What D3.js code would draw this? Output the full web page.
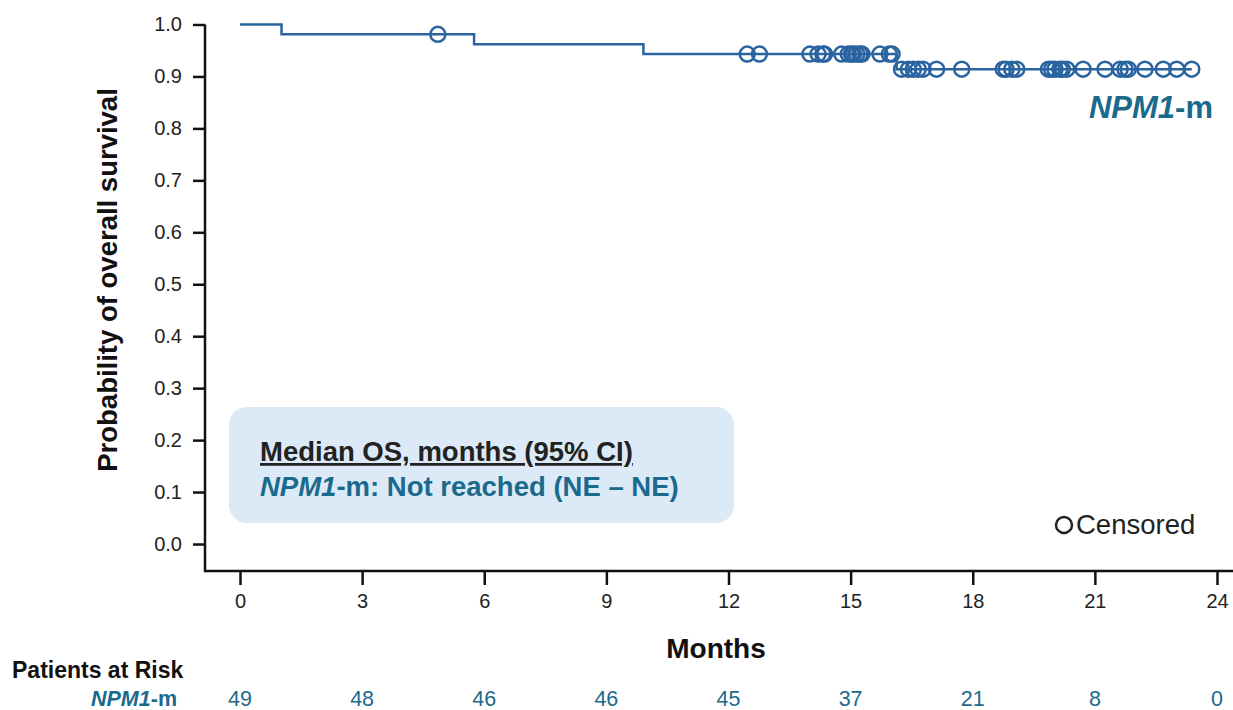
<!DOCTYPE html>
<html>
<head>
<meta charset="utf-8">
<script src="https://cdn.jsdelivr.net/npm/d3@7"></script>
<style>
  body { margin: 0; background: #fff; }
  text { font-family: "Liberation Sans", Arial, sans-serif; }
</style>
</head>
<body>
<svg width="1233" height="710"></svg>
<script>
const svg = d3.select("svg");

// step curve: event times and survival after each step
const stepTimes = [0, 1.02, 5.75, 9.91, 16.13];
const stepSurv = [1.0, 0.981, 0.962, 0.943, 0.914];
const lastTime = 23.38;

// censored patients (months)
const censorTimes = [4.86, 12.46, 12.76, 14.0, 14.2, 14.32, 14.36, 14.78, 14.94, 15.02, 15.07, 15.15, 15.23, 15.28, 15.72, 15.95, 16.02,
  16.25, 16.42, 16.54, 16.66, 16.78, 17.11, 17.73,
  18.75, 18.82, 18.96, 19.08, 19.86, 19.94, 20.02, 20.14, 20.2, 20.31, 20.71,
  21.25, 21.62, 21.74, 21.82, 22.23, 22.68, 23.01, 23.38];

const monthTicks = [0, 3, 6, 9, 12, 15, 18, 21, 24];
const atRisk = [49, 48, 46, 46, 45, 37, 21, 8, 0];
const survTicks = [0, 0.1, 0.2, 0.3, 0.4, 0.5, 0.6, 0.7, 0.8, 0.9, 1.0];

const lineColor = "#2a64a0";
const teal = "#1b6a8c";
const dark = "#222";

const x = d3.scaleLinear().domain([0, 24]).range([240, 1217]);
const y = d3.scaleLinear().domain([0, 1]).range([544, 24.5]);
const axisX = 205, axisY = 571;

function survAt(t) {
  let s = stepSurv[0];
  stepTimes.forEach((st, i) => { if (t >= st) s = stepSurv[i]; });
  return s;
}

// axes
const xAxis = svg.append("g")
    .attr("transform", `translate(0,${axisY})`)
    .call(d3.axisBottom(x).tickValues(monthTicks).tickSize(14).tickPadding(9).tickSizeOuter(0));
xAxis.select(".domain").remove();

const yAxis = svg.append("g")
    .attr("transform", `translate(${axisX},0)`)
    .call(d3.axisLeft(y).tickValues(survTicks).tickFormat(d3.format(".1f")).tickSize(12).tickPadding(11).tickSizeOuter(0));
yAxis.select(".domain").remove();

svg.selectAll(".tick line").attr("stroke", "#111").attr("stroke-width", 2.5);
svg.selectAll(".tick text").attr("font-size", 20).attr("fill", dark)
    .attr("font-family", "'Liberation Sans', Arial, sans-serif");

svg.append("line").attr("x1", axisX).attr("x2", 1233).attr("y1", axisY).attr("y2", axisY)
    .attr("stroke", "#111").attr("stroke-width", 2.5);
svg.append("line").attr("x1", axisX).attr("x2", axisX).attr("y1", y(1)).attr("y2", axisY + 1.25)
    .attr("stroke", "#111").attr("stroke-width", 2.5);

// median box
svg.append("rect").attr("x", 229).attr("y", 407).attr("width", 505).attr("height", 116)
    .attr("rx", 18).attr("fill", "#dce9f6");
svg.append("text").attr("x", 260).attr("y", 461)
    .attr("font-size", 27.5).attr("font-weight", "bold").attr("fill", dark)
    .attr("text-decoration", "underline")
    .text("Median OS, months (95% CI)");
const t2 = svg.append("text").attr("x", 260).attr("y", 496)
    .attr("font-size", 27.5).attr("font-weight", "bold").attr("fill", teal);
t2.append("tspan").attr("font-style", "italic").text("NPM1");
t2.append("tspan").text("-m: Not reached (NE \u2013 NE)");

// KM curve
const pts = [];
stepTimes.forEach((t, i) => {
  if (i > 0) pts.push([t, stepSurv[i - 1]]);
  pts.push([t, stepSurv[i]]);
});
pts.push([lastTime, stepSurv[stepSurv.length - 1]]);

svg.append("path")
    .datum(pts)
    .attr("fill", "none")
    .attr("stroke", lineColor)
    .attr("stroke-width", 2.5)
    .attr("d", d3.line().x(d => x(d[0])).y(d => y(d[1])));

svg.selectAll("circle.cens")
    .data(censorTimes)
    .enter().append("circle")
    .attr("class", "cens")
    .attr("cx", d => x(d))
    .attr("cy", d => y(survAt(d)))
    .attr("r", 7.5)
    .attr("fill", "none")
    .attr("stroke", lineColor)
    .attr("stroke-width", 2.5);

// series label
const lab = svg.append("text").attr("x", 1213).attr("y", 118).attr("text-anchor", "end")
    .attr("font-size", 31).attr("font-weight", "bold").attr("fill", teal);
lab.append("tspan").attr("font-style", "italic").text("NPM1");
lab.append("tspan").text("-m");

// censored legend
svg.append("circle").attr("cx", 1064).attr("cy", 525).attr("r", 8)
    .attr("fill", "none").attr("stroke", dark).attr("stroke-width", 2.5);
svg.append("text").attr("x", 1076).attr("y", 534).attr("font-size", 27.5).attr("fill", dark).text("Censored");

// axis titles
svg.append("text").attr("x", 716).attr("y", 658).attr("text-anchor", "middle")
    .attr("font-size", 28).attr("font-weight", "bold").attr("fill", "#111").text("Months");
svg.append("text").attr("transform", "translate(117,280) rotate(-90)").attr("text-anchor", "middle")
    .attr("font-size", 27.5).attr("font-weight", "bold").attr("fill", "#111").text("Probability of overall survival");

// risk table
svg.append("text").attr("x", 12).attr("y", 678).attr("font-size", 23).attr("font-weight", "bold")
    .attr("fill", "#111").text("Patients at Risk");
const rl = svg.append("text").attr("x", 177).attr("y", 706).attr("text-anchor", "end")
    .attr("font-size", 21.5).attr("font-weight", "bold").attr("fill", teal);
rl.append("tspan").attr("font-style", "italic").text("NPM1");
rl.append("tspan").text("-m");

svg.selectAll("text.risk")
    .data(atRisk)
    .enter().append("text")
    .attr("class", "risk")
    .attr("x", (d, i) => x(monthTicks[i]))
    .attr("y", 706)
    .attr("text-anchor", "middle")
    .attr("font-size", 21.5)
    .attr("fill", teal)
    .text(d => d);
</script>
</body>
</html>
